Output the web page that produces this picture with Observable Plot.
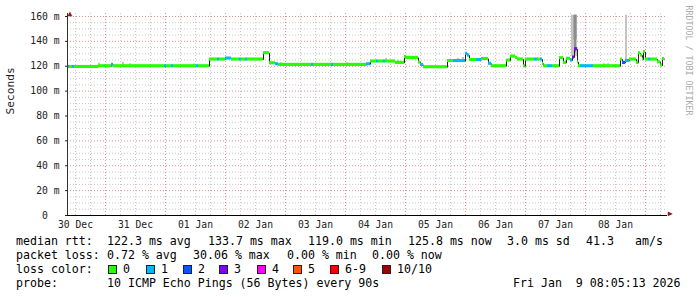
<!DOCTYPE html>
<html><head><meta charset="utf-8">
<script src="https://cdn.jsdelivr.net/npm/d3@7"></script>
<script src="https://cdn.jsdelivr.net/npm/@observablehq/plot@0.6"></script>
<style>
html,body{margin:0;padding:0;background:#fff;}
#wrap{position:relative;width:697px;height:297px;overflow:hidden;background:#fff;font-family:"DejaVu Sans Mono",monospace;}
#chart svg{display:block;}
.lg{position:absolute;font-size:11.6px;line-height:14px;white-space:pre;color:#000;}
.sw{position:absolute;width:7px;height:7px;border:1px solid #222;}
</style></head><body><div id="wrap"><div id="chart"></div></div>
<script>
// ---- data ----
const timeDomain = ["2025-12-30T08:48", "2026-01-09T08:48"];
const dataEnd = "2026-01-09T07:36";
const medianTimes = [
"2025-12-30T08:48","2025-12-30T09:36","2025-12-30T10:48","2025-12-30T11:36","2025-12-30T21:12",
"2025-12-31T02:24","2025-12-31T03:12","2025-12-31T23:36","2026-01-01T00:24","2026-01-01T02:24",
"2026-01-01T03:12","2026-01-01T12:24","2026-01-01T13:12","2026-01-01T17:36","2026-01-01T20:48",
"2026-01-01T21:36","2026-01-02T00:00","2026-01-02T02:24","2026-01-02T05:36","2026-01-02T06:24",
"2026-01-02T08:00","2026-01-02T08:48","2026-01-02T15:12","2026-01-02T17:36","2026-01-02T20:00",
"2026-01-02T21:12","2026-01-03T10:24","2026-01-03T11:12","2026-01-03T18:24","2026-01-03T19:12",
"2026-01-04T08:24","2026-01-04T10:00","2026-01-04T12:24","2026-01-04T13:12","2026-01-04T15:12",
"2026-01-04T16:00","2026-01-04T20:00","2026-01-04T23:36","2026-01-05T00:24","2026-01-05T05:12",
"2026-01-05T06:00","2026-01-05T07:12","2026-01-05T16:48","2026-01-05T19:12","2026-01-06T00:00",
"2026-01-06T00:48","2026-01-06T01:36","2026-01-06T04:24","2026-01-06T06:24","2026-01-06T09:12",
"2026-01-06T10:24","2026-01-06T16:24","2026-01-06T18:00","2026-01-06T20:00","2026-01-06T20:48",
"2026-01-06T23:12","2026-01-07T00:00","2026-01-07T03:36","2026-01-07T04:48","2026-01-07T06:00",
"2026-01-07T06:48","2026-01-07T07:12","2026-01-07T08:48","2026-01-07T10:48","2026-01-07T13:36",
"2026-01-07T15:12","2026-01-07T16:24","2026-01-07T18:00","2026-01-07T18:48","2026-01-07T19:36",
"2026-01-07T20:48","2026-01-07T21:12","2026-01-07T22:00","2026-01-08T03:12","2026-01-08T14:00",
"2026-01-08T14:48","2026-01-08T16:00","2026-01-08T17:36","2026-01-08T20:24","2026-01-08T21:12",
"2026-01-08T22:00","2026-01-08T22:48","2026-01-08T23:12","2026-01-09T00:00","2026-01-09T01:12",
"2026-01-09T02:00","2026-01-09T04:48","2026-01-09T06:00","2026-01-09T06:48"];
const medianMs = [
119.4,119.4,119.4,119.4,120.0,
121.2,120.0,120.0,120.0,120.0,
120.0,120.0,120.0,125.4,125.4,
125.4,126.2,125.4,125.4,125.4,
125.4,125.4,130.5,122.4,121.6,
121.1,121.1,121.1,121.1,121.1,
121.6,123.8,123.8,123.8,123.8,
123.8,122.7,127.5,126.7,123.0,
121.0,119.2,124.2,124.2,130.0,
128.6,125.0,125.0,125.8,122.0,
120.0,124.6,127.8,126.7,125.4,
120.0,125.4,125.4,125.4,125.4,
122.0,120.0,120.0,120.0,126.5,
122.7,126.0,124.6,127.0,133.7,
123.2,120.0,120.0,120.0,125.4,
122.7,124.2,125.4,122.7,130.5,
128.6,125.4,131.3,125.4,125.4,
125.4,123.2,120.6,125.8];
const lossPings = [
1,0,1,0,0,
1,0,1,0,1,
0,1,0,0,1,
0,1,0,1,0,
1,0,0,0,1,
0,1,0,1,0,
1,0,1,0,1,
0,0,0,0,0,
1,0,0,1,1,
1,0,1,0,1,
0,0,0,0,0,
0,0,1,0,1,
0,0,1,0,0,
0,0,1,3,3,
0,0,1,0,0,
2,1,0,0,0,
0,0,0,0,1,
0,0,0,0];
// smoke (spread of individual pings)
const smokeStart = ["2025-12-30T21:12","2025-12-31T06:48","2025-12-31T09:36","2026-01-01T11:12","2026-01-02T22:00","2026-01-04T00:24","2026-01-04T16:00","2026-01-04T20:48","2026-01-05T20:48","2026-01-05T22:48","2026-01-08T07:12","2026-01-08T08:48","2026-01-07T18:24","2026-01-07T19:12","2026-01-07T19:36","2026-01-08T16:00"];
const smokeEnd   = ["2025-12-30T22:00","2025-12-31T07:36","2025-12-31T10:24","2026-01-01T12:00","2026-01-02T22:48","2026-01-04T01:12","2026-01-04T16:48","2026-01-04T21:36","2026-01-05T21:36","2026-01-05T23:36","2026-01-08T08:00","2026-01-08T09:36","2026-01-07T20:48","2026-01-07T20:48","2026-01-07T20:24","2026-01-08T16:48"];
const smokeLow   = [120.5,120.5,120.5,120.5,121.5,121.5,124.5,123.5,125.0,125.0,120.5,120.5,128.0,141.0,131.0,124.0];
const smokeHigh  = [122.5,123.2,122.0,121.8,122.8,122.8,126.2,124.8,126.2,127.0,121.8,121.8,161.0,161.0,161.0,161.0];
const smokeDensity = [1,1,1,1,1,1,1,1,1,1,2,2,1,2,3,1];

const yTicks = [0,20,40,60,80,100,120,140,160];
const yTickLabels = ["0\u00a0\u00a0","20 m","40 m","60 m","80 m","100 m","120 m","140 m","160 m"];
const xTickLabels = ["30 Dec","31 Dec","01 Jan","02 Jan","03 Jan","04 Jan","05 Jan","06 Jan","07 Jan","08 Jan"];
const yTitle = "Seconds";
const sideText = "RRDTOOL / TOBI OETIKER";

const lossLabels = ["0","1","2","3","4","5","6-9","10/10"];
const lossColors = ["#26ff00","#00b8ff","#0059ff","#7e00ff","#ff00ff","#ff5500","#ff0000","#a10000"];
const rttStats = ["122.3 ms avg","133.7 ms max","119.0 ms min","125.8 ms now","3.0 ms sd","41.3","am/s"];
const lossStats = ["0.72 % avg","30.06 % max","0.00 % min","0.00 % now"];
const probeText = "10 ICMP Echo Pings (56 Bytes) every 90s";
const stampText = "Fri Jan  9 08:05:13 2026";

// ---- build ----
const P = s => new Date(s + ":00Z");
const x0 = P(timeDomain[0]), x1 = P(timeDomain[1]);
const segs = medianTimes.map((t, i) => ({
  t: P(t), t2: P(i + 1 < medianTimes.length ? medianTimes[i + 1] : dataEnd),
  v: medianMs[i], loss: lossPings[i]
}));
const linePts = segs.map(s => ({t: s.t, v: s.v})).concat([{t: segs[segs.length - 1].t2, v: segs[segs.length - 1].v}]);
const colorOf = n => lossColors[n <= 5 ? n : n < 10 ? 6 : 7];
const smoke = smokeStart.map((s, i) => ({t1: P(s), t2: P(smokeEnd[i]), lo: smokeLow[i], hi: smokeHigh[i], d: smokeDensity[i]}));
const smokeShade = ["#000", "#c4c4c4", "#a8a8a8", "#8c8c8c"];
const band = 1.25;

const minorX = d3.utcHour.every(6).range(x0, x1).filter(d => d.getUTCHours() !== 0);
const majorX = d3.utcDay.range(x0, x1);
const labelX = d3.utcDay.range(d3.utcDay.floor(x0), x1).map(d => d3.utcHour.offset(d, 12)).filter(d => d >= x0 && d <= x1);
const minorY = d3.range(5, 162, 5).filter(v => v % 20 !== 0);
const majorY = yTicks.filter(v => v > 0);

const chart = Plot.plot({
  width: 697, height: 232,
  marginLeft: 67, marginRight: 30, marginTop: 13, marginBottom: 17,
  x: {type: "utc", domain: [x0, x1]},
  y: {domain: [0, 162.4]},
  style: {fontFamily: "DejaVu Sans Mono", fontSize: "9.7px", background: "#fff", color: "#222"},
  marks: [
    Plot.ruleY(minorY, {stroke: "#c8c8c8", strokeDasharray: "1,2"}),
    Plot.ruleX(minorX, {stroke: "#c8c8c8", strokeDasharray: "1,2"}),
    Plot.ruleY(majorY, {stroke: "#e09090", strokeDasharray: "1,2"}),
    Plot.ruleX(majorX, {stroke: "#e09090", strokeDasharray: "1,2"}),
    Plot.rect(smoke, {x1: "t1", x2: "t2", y1: "lo", y2: "hi", fill: d => smokeShade[d.d]}),
    Plot.line(linePts, {x: "t", y: "v", curve: "step-after", stroke: "#202020", strokeWidth: 1}),
    Plot.rect(segs, {x1: "t", x2: "t2", y1: d => d.v - band, y2: d => d.v + band, fill: d => colorOf(d.loss)}),
    Plot.ruleY([0], {stroke: "#000", strokeWidth: 1}),
    Plot.ruleX([x0], {stroke: "#333", strokeWidth: 1}),
    Plot.axisY({ticks: yTicks, tickSize: 2, tickPadding: 6, tickFormat: (d, i) => yTickLabels[yTicks.indexOf(d)], label: null}),
    Plot.axisX({ticks: labelX, tickSize: 0, tickPadding: 6, tickFormat: (d, i) => xTickLabels[i], label: null}),
    Plot.text([yTitle], {frameAnchor: "left", dx: -57, rotate: -90, fontSize: 11.2, fill: "#222"}),
    Plot.text([sideText], {frameAnchor: "top-right", dx: 21, dy: -8, rotate: 90, textAnchor: "start", lineAnchor: "middle", fontSize: 8.3, fill: "#aaa"}),
    Plot.text([0], {text: () => "\u25B2", frameAnchor: "top-left", dy: -3, fontSize: 8, fill: "#8b1a1a"}),
    Plot.text([0], {text: () => "\u25B6", frameAnchor: "bottom-right", dx: 5, fontSize: 8, fill: "#8b1a1a"})
  ]
});
const wrap = document.getElementById("wrap");
document.getElementById("chart").appendChild(chart);

// ---- legend ----
function put(txt, x, cy) {
  const s = document.createElement("span");
  s.className = "lg"; s.textContent = txt;
  s.style.left = x + "px"; s.style.top = (cy - 7) + "px";
  wrap.appendChild(s);
}
const rttX = [107, 208, 308, 408, 507, 586, 635];
const lossX = [107, 193, 287, 372];
const swX = [108, 146, 183, 219, 257, 293, 330, 382];
put("median rtt:", 16, 241);
rttStats.forEach((t, i) => put(t, rttX[i], 241));
put("packet loss:", 16, 255);
lossStats.forEach((t, i) => put(t, lossX[i], 255));
put("loss color:", 16, 269);
lossLabels.forEach((t, i) => {
  const b = document.createElement("div");
  b.className = "sw"; b.style.left = swX[i] + "px"; b.style.top = "265px";
  b.style.background = lossColors[i];
  wrap.appendChild(b);
  put(t, swX[i] + 15, 269);
});
put("probe:", 16, 283);
put(probeText, 107, 283);
put(stampText, 513, 283);
</script></body></html>
